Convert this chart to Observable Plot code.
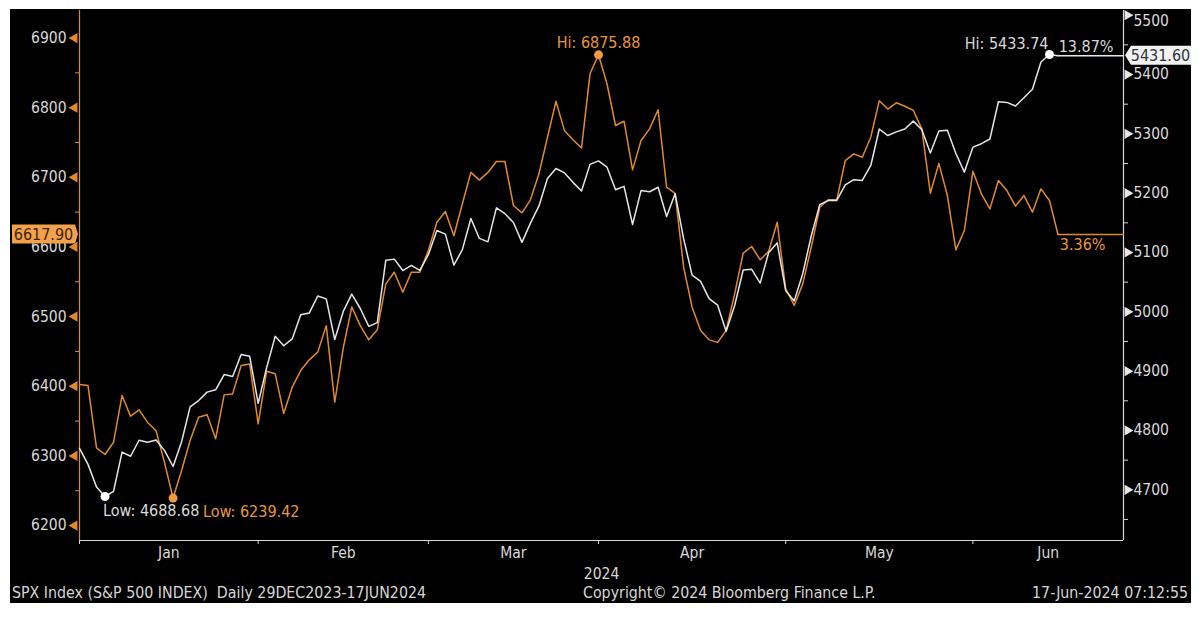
<!DOCTYPE html>
<html><head><meta charset="utf-8">
<script src="https://cdn.jsdelivr.net/npm/d3@7"></script>
<script src="https://cdn.jsdelivr.net/npm/@observablehq/plot@0.6"></script>
<style>
html,body{margin:0;padding:0;background:#fff;}
body{width:1200px;height:623px;overflow:hidden;position:relative;font-family:"DejaVu Sans Condensed","Liberation Sans Narrow","Liberation Sans",sans-serif;}
#panel{position:absolute;left:10px;top:9px;width:1181px;height:594px;background:#000;}
#chart{position:absolute;left:0;top:0;}
.foot{position:absolute;top:583px;color:#d6d6d6;font-size:15.8px;white-space:pre;line-height:20px;}
</style></head><body>
<div id="panel"></div>
<div id="chart"></div>
<div class="foot" style="left:12px">SPX Index (S&amp;P 500 INDEX)  Daily 29DEC2023-17JUN2024</div>
<div class="foot" style="left:583px">Copyright© 2024 Bloomberg Finance L.P.</div>
<div class="foot" style="right:12px">17-Jun-2024 07:12:55</div>
<script>
// ---- data ----
const dates = ["2023-12-29",
"2024-01-02","2024-01-03","2024-01-04","2024-01-05","2024-01-08","2024-01-09","2024-01-10","2024-01-11","2024-01-12","2024-01-16","2024-01-17","2024-01-18","2024-01-19","2024-01-22","2024-01-23","2024-01-24","2024-01-25","2024-01-26","2024-01-29","2024-01-30","2024-01-31",
"2024-02-01","2024-02-02","2024-02-05","2024-02-06","2024-02-07","2024-02-08","2024-02-09","2024-02-12","2024-02-13","2024-02-14","2024-02-15","2024-02-16","2024-02-20","2024-02-21","2024-02-22","2024-02-23","2024-02-26","2024-02-27","2024-02-28","2024-02-29",
"2024-03-01","2024-03-04","2024-03-05","2024-03-06","2024-03-07","2024-03-08","2024-03-11","2024-03-12","2024-03-13","2024-03-14","2024-03-15","2024-03-18","2024-03-19","2024-03-20","2024-03-21","2024-03-22","2024-03-25","2024-03-26","2024-03-27","2024-03-28",
"2024-04-01","2024-04-02","2024-04-03","2024-04-04","2024-04-05","2024-04-08","2024-04-09","2024-04-10","2024-04-11","2024-04-12","2024-04-15","2024-04-16","2024-04-17","2024-04-18","2024-04-19","2024-04-22","2024-04-23","2024-04-24","2024-04-25","2024-04-26","2024-04-29","2024-04-30",
"2024-05-01","2024-05-02","2024-05-03","2024-05-06","2024-05-07","2024-05-08","2024-05-09","2024-05-10","2024-05-13","2024-05-14","2024-05-15","2024-05-16","2024-05-17","2024-05-20","2024-05-21","2024-05-22","2024-05-23","2024-05-24","2024-05-28","2024-05-29","2024-05-30","2024-05-31",
"2024-06-03","2024-06-04","2024-06-05","2024-06-06","2024-06-07","2024-06-10","2024-06-11","2024-06-12","2024-06-13","2024-06-14"];

// S&P 500 (white, right axis)
const spx = [4769.83,
4742.83,4704.81,4688.68,4697.24,4763.54,4756.50,4783.45,4780.24,4783.83,4765.98,4739.21,4780.94,4839.81,4850.43,4864.60,4868.55,4894.16,4890.97,4927.93,4924.97,4845.65,
4906.19,4958.61,4942.81,4954.23,4995.06,4997.91,5026.61,5021.84,4953.17,5000.62,5029.73,5005.57,4975.51,4981.80,5087.03,5088.80,5069.53,5078.18,5069.76,5096.27,
5137.08,5130.95,5078.65,5104.76,5157.36,5123.69,5117.94,5175.27,5165.31,5150.48,5117.09,5149.42,5178.51,5224.62,5241.53,5234.18,5218.19,5203.58,5248.49,5254.35,
5243.77,5205.81,5211.49,5147.21,5204.34,5202.39,5209.91,5160.64,5199.06,5123.41,5061.82,5051.41,5022.21,5011.12,4967.23,5010.60,5070.55,5071.63,5048.42,5099.96,5116.17,5035.69,
5018.39,5064.20,5127.79,5180.74,5187.70,5187.67,5214.08,5222.68,5221.42,5246.68,5308.15,5297.10,5303.27,5308.13,5321.41,5307.01,5267.84,5304.72,5306.04,5266.95,5235.48,5277.51,
5283.40,5291.34,5354.03,5352.96,5346.99,5360.79,5375.32,5421.03,5433.74,5431.60];

// second index (orange, left axis)
const ew = [6402.5,
6401,6311.5,6302,6319.6,6386.6,6357,6366,6348,6336,6290,6239.42,6279,6322,6355.5,6359,6324.5,6387.6,6389,6429.7,6432,6346,
6421.6,6418,6361,6398.6,6422.5,6437.9,6449,6487,6377,6455,6513.7,6487,6466.6,6481,6547,6563.7,6535,6563.7,6563.7,6594.9,
6635.5,6651,6616,6662,6707,6696,6707,6722.7,6722.7,6659.5,6649,6667.7,6705,6757.5,6809,6767,6753.8,6742,6848.6,6875.88,
6834,6774.4,6780.5,6710.7,6752.8,6769.6,6797,6685.8,6677,6571,6513.5,6480,6466.6,6463,6480,6532.6,6591,6600.6,6581.5,6593.9,6635.5,6539.8,
6515.9,6547,6599.6,6657,6667.7,6667.7,6724,6733.7,6728.8,6757.6,6810,6798,6807,6802,6796,6769.6,6677,6720,6673.8,6595.8,6623.6,6708.8,
6676.3,6654.7,6695.4,6681,6658.5,6673.8,6649.9,6683.4,6666.7,6617.90];

const months = ["Jan","Feb","Mar","Apr","May","Jun"];
const leftMajor = [6200,6300,6400,6500,6600,6700,6800,6900];
const leftMinor = [6250,6350,6450,6550,6650,6750,6850];
const rightMajor = [4700,4800,4900,5000,5100,5200,5300,5400,5500];
const rightMinor = [4650,4750,4850,4950,5050,5150,5250,5350,5450];

// ---- scales ----
const xMax = 122.7;                 // trading-day index at right edge
const L = [6178.5, 6939.5];         // left axis domain
const R = [4614.5, 5507.9];         // right axis domain
const toL = v => L[0] + (v - R[0]) * (L[1] - L[0]) / (R[1] - R[0]);
const toR = v => R[0] + (v - L[0]) * (R[1] - R[0]) / (L[1] - L[0]);

const rows = dates.map((d, i) => ({i, date: d, ew: ew[i], spx: spx[i]}));
// month boundaries: last trading day of each month
const monthIdx = months.map((m, k) => rows.findIndex(r => +r.date.slice(5,7) === k + 1 && r.date.startsWith("2024")));
const bounds = [0, ...monthIdx.slice(1).map(k => k - 1)];
const monthMid = months.map((m, k) => ({m, x: (bounds[k] + (k + 1 < bounds.length ? bounds[k + 1] : xMax)) / 2}));

const last = rows.length - 1;
const ewHiI = ew.indexOf(d3.max(ew)), ewLoI = ew.indexOf(d3.min(ew));
const spHiI = spx.indexOf(d3.max(spx)), spLoI = spx.indexOf(d3.min(spx));
const ewPct = ((ew[last] / ew[0] - 1) * 100).toFixed(2) + "%";
const spPct = ((spx[last] / spx[0] - 1) * 100).toFixed(2) + "%";

const rTop = d3.max(rightMajor);
const rightLabels = rightMajor.filter(v => v !== rTop);

const OR = "#e08a30", ORT = "#e8963c", WH = "#e6e6e6", TX = "#d9d9d9";
const FONT = "'DejaVu Sans Condensed','Liberation Sans Narrow','Liberation Sans',sans-serif";
const AF = 16; // annotation font size
const rFmt = d => String(Math.round(toR(d)));

const plot = Plot.plot({
  width: 1200, height: 623,
  marginLeft: 79, marginRight: 77, marginTop: 10, marginBottom: 83,
  style: {background: "transparent", color: TX, fontFamily: FONT, fontSize: "15px", overflow: "visible"},
  x: {type: "linear", domain: [0, xMax], axis: null},
  y: {type: "linear", domain: L, axis: null},
  marks: [
    // axis lines
    Plot.ruleX([0], {stroke: OR, strokeWidth: 1.2}),
    Plot.ruleX([xMax], {stroke: "#d8d8d8", strokeWidth: 1.2}),
    Plot.ruleY([L[0]], {stroke: "#d8d8d8", strokeWidth: 1.2}),
    // left axis
    Plot.axisY(leftMinor, {anchor: "left", tickSize: 4, tickFormat: () => "", stroke: OR}),
    Plot.axisY(leftMajor, {anchor: "left", tickSize: 0, tickPadding: 13, tickFormat: d => String(d), fill: TX, fontSize: 15.5}),
    Plot.dot(leftMajor, {y: d => d, frameAnchor: "left", symbol: "triangle", r: 3.8, rotate: -90, dx: -5, fill: OR, stroke: null}),
    // right axis
    Plot.axisY(rightMinor.map(toL), {anchor: "right", tickSize: 4, tickFormat: () => "", stroke: "#d8d8d8"}),
    Plot.axisY(rightLabels.map(toL), {anchor: "right", tickSize: 0, tickPadding: 10, tickFormat: rFmt, fill: TX, fontSize: 15.5}),
    Plot.axisY([toL(rTop)], {anchor: "right", tickSize: 0, tickPadding: 10, tickFormat: rFmt, fill: TX, fontSize: 15.5, dy: 6}),
    Plot.dot(rightMajor, {y: d => toL(d), frameAnchor: "right", symbol: "triangle", r: 3.8, rotate: 90, dx: 4, fill: WH, stroke: null}),
    // x axis
    Plot.axisX(bounds, {anchor: "bottom", tickSize: 4, tickFormat: () => "", stroke: "#d8d8d8"}),
    Plot.text(monthMid, {x: "x", text: "m", frameAnchor: "bottom", lineAnchor: "middle", dy: 13, fill: TX, fontSize: 15.5}),
    Plot.text(["2024"], {frameAnchor: "bottom", lineAnchor: "middle", dy: 34, fill: TX, fontSize: 15.5}),
    // last-value extension lines
    Plot.line([{i: last, v: ew[last]}, {i: xMax, v: ew[last]}], {x: "i", y: "v", stroke: OR, strokeWidth: 1.4}),
    Plot.line([{i: last, v: toL(spx[last])}, {i: xMax, v: toL(spx[last])}], {x: "i", y: "v", stroke: WH, strokeWidth: 1.4}),
    // series
    Plot.line(rows, {x: "i", y: "ew", stroke: OR, strokeWidth: 1.5}),
    Plot.line(rows, {x: "i", y: d => toL(d.spx), stroke: WH, strokeWidth: 1.5}),
    // hi / low markers
    Plot.dot([ewHiI, ewLoI], {x: d => d, y: d => ew[d], r: 4.5, fill: "#f0993e", stroke: null}),
    Plot.dot([spHiI, spLoI], {x: d => d, y: d => toL(spx[d]), r: 4.5, fill: "#fff", stroke: null}),
    Plot.text([ewHiI], {x: d => d, y: d => ew[d], text: d => "Hi: " + ew[d].toFixed(2), dy: -12, fill: ORT, fontSize: AF}),
    Plot.text([ewLoI], {x: d => d, y: d => ew[d], text: d => "Low: " + ew[d].toFixed(2), dy: 14, dx: 30, textAnchor: "start", fill: ORT, fontSize: AF}),
    Plot.text([spHiI], {x: d => d, y: d => toL(spx[d]), text: d => "Hi: " + spx[d].toFixed(2), dy: -11, dx: -1, textAnchor: "end", fill: TX, fontSize: AF}),
    Plot.text([spLoI], {x: d => d, y: d => toL(spx[d]), text: d => "Low: " + spx[d].toFixed(2), dy: 14, dx: -2, textAnchor: "start", fill: TX, fontSize: AF}),
    Plot.text([spPct], {x: () => xMax, y: () => toL(spx[last]), text: d => d, dy: -9, dx: -10, textAnchor: "end", fill: TX, fontSize: AF}),
    Plot.text([ewPct], {x: () => xMax, y: () => ew[last], text: d => d, dy: 10, dx: -18, textAnchor: "end", fill: ORT, fontSize: AF})
  ]
});

document.getElementById("chart").appendChild(plot);

// last-value tags on both axes, positioned with the plot's own scales
const svg = d3.select(plot);
const ys = plot.scale("y"), xs = plot.scale("x");
const xl = xs.apply(0), xr = xs.apply(xMax);
function tag(y, x0, x1, tip, fill, color, label, cx) {
  const g = svg.append("g");
  const h = 9.5;
  const path = tip < x0
    ? `M${tip},${y} L${x0},${y - h} L${x1},${y - h} L${x1},${y + h} L${x0},${y + h} Z`
    : `M${x0},${y - h} L${x1},${y - h} L${tip},${y} L${x1},${y + h} L${x0},${y + h} Z`;
  g.append("path").attr("d", path).attr("fill", fill);
  g.append("text").attr("x", cx).attr("y", y).attr("dy", "0.36em").attr("text-anchor", "middle")
    .attr("fill", color).attr("font-family", FONT).attr("font-size", 16).text(label);
}
const yE = ys.apply(ew[last]);
tag(yE, 12, xl - 4, xl - 1, "#f2a24c", "#3d2400", ew[last].toFixed(2), (12 + xl - 4) / 2);
const yS = ys.apply(toL(spx[last]));
tag(yS, xr + 8, 1191, xr + 2, "#f2f2f2", "#2b3440", spx[last].toFixed(2), (xr + 8 + 1190) / 2);
</script>
</body></html>
